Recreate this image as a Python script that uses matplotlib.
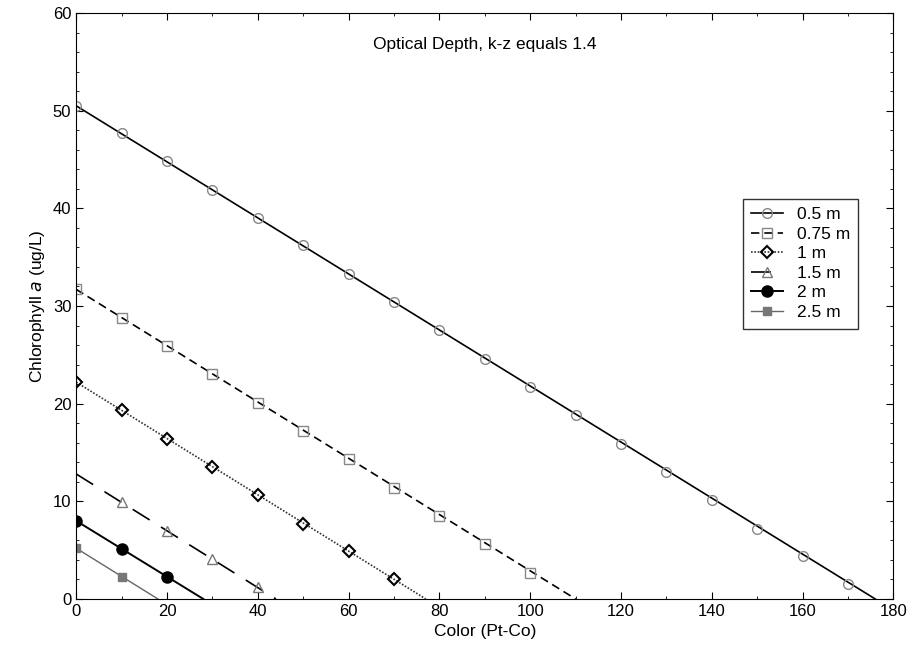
import matplotlib
matplotlib.use("Agg")
import matplotlib.pyplot as plt
from matplotlib.ticker import MultipleLocator

plt.rcParams['font.family'] = ['Liberation Sans', 'DejaVu Sans']

# values at the marker positions, plus where each line hits zero
depths = ['0.5 m', '0.75 m', '1 m', '1.5 m', '2 m', '2.5 m']
color_pts = {
    '0.5 m': [0, 10, 20, 30, 40, 50, 60, 70, 80, 90, 100, 110, 120, 130, 140, 150, 160, 170],
    '0.75 m': [0, 10, 20, 30, 40, 50, 60, 70, 80, 90, 100],
    '1 m': [0, 10, 20, 30, 40, 50, 60, 70],
    '1.5 m': [10, 20, 30, 40],
    '2 m': [0, 10, 20],
    '2.5 m': [0, 10],
}
chl_pts = {
    '0.5 m': [50.5, 47.7, 44.8, 41.9, 39.0, 36.2, 33.3, 30.4, 27.5, 24.6, 21.7, 18.8, 15.9, 13.0, 10.1, 7.2, 4.4, 1.5],
    '0.75 m': [31.7, 28.8, 25.9, 23.0, 20.1, 17.2, 14.3, 11.4, 8.5, 5.6, 2.7],
    '1 m': [22.2, 19.3, 16.4, 13.5, 10.6, 7.7, 4.9, 2.0],
    '1.5 m': [9.9, 7.0, 4.1, 1.2],
    '2 m': [8.0, 5.1, 2.2],
    '2.5 m': [5.2, 2.3],
}
y_start = {'0.5 m': 50.5, '0.75 m': 31.7, '1 m': 22.2, '1.5 m': 12.8, '2 m': 8.0, '2.5 m': 5.2}
x_zero = {'0.5 m': 176, '0.75 m': 110, '1 m': 77, '1.5 m': 44, '2 m': 28, '2.5 m': 18}

styles = {
    '0.5 m': dict(ls='-', lw=1.2, color='black', marker='o', mfc='none', mec='#888888', ms=7),
    '0.75 m': dict(ls=(0, (5, 3)), lw=1.2, color='black', marker='s', mfc='none', mec='#888888', ms=7),
    '1 m': dict(ls=(0, (1, 1)), lw=1.2, color='#333333', marker='D', mfc='none', mec='black', ms=6, mew=1.5),
    '1.5 m': dict(ls=(0, (12, 8)), lw=1.2, color='black', marker='^', mfc='none', mec='#777777', ms=7),
    '2 m': dict(ls='-', lw=1.4, color='black', marker='o', mfc='black', mec='black', ms=8),
    '2.5 m': dict(ls='-', lw=1.0, color='#666666', marker='s', mfc='#777777', mec='#777777', ms=6),
}

fig = plt.figure(figsize=(9.07, 6.67), dpi=100)
ax = fig.add_axes([0.084, 0.102, 0.901, 0.8785])

for d in depths:
    st = dict(styles[d])
    mk = dict(marker=st.pop('marker'), mfc=st.pop('mfc'), mec=st.pop('mec'),
              ms=st.pop('ms'), mew=st.pop('mew', 1.0))
    xs = [0, x_zero[d]]
    ys = [y_start[d], 0]
    ax.plot(xs, ys, **st)
    ax.plot(color_pts[d], chl_pts[d], ls='none', **mk)
    # legend proxy
    ax.plot([], [], label=d, ls=st['ls'], lw=st['lw'], color=st['color'], **mk)

ax.set_xlim(0, 180)
ax.set_ylim(0, 60)
ax.xaxis.set_major_locator(MultipleLocator(20))
ax.xaxis.set_minor_locator(MultipleLocator(10))
ax.yaxis.set_major_locator(MultipleLocator(10))
ax.yaxis.set_minor_locator(MultipleLocator(2))
ax.tick_params(which='both', direction='in', top=True, right=True, labelsize=12)
ax.tick_params(which='major', length=5)
ax.tick_params(which='minor', length=2.5)

ax.set_xlabel('Color (Pt-Co)', fontsize=12.5)
ax.set_ylabel('Chlorophyll $\\mathit{a}$ (ug/L)', fontsize=12.5)
ax.text(90, 56.8, 'Optical Depth, k-z equals 1.4', ha='center', va='center', fontsize=12.5)

leg = ax.legend(loc='upper left', bbox_to_anchor=(0.805, 0.698), fontsize=12.5,
                frameon=True, fancybox=False, edgecolor='black', handlelength=1.8,
                borderpad=0.5, labelspacing=0.25)
leg.get_frame().set_linewidth(1.0)

fig.savefig('out.png', dpi=100)
